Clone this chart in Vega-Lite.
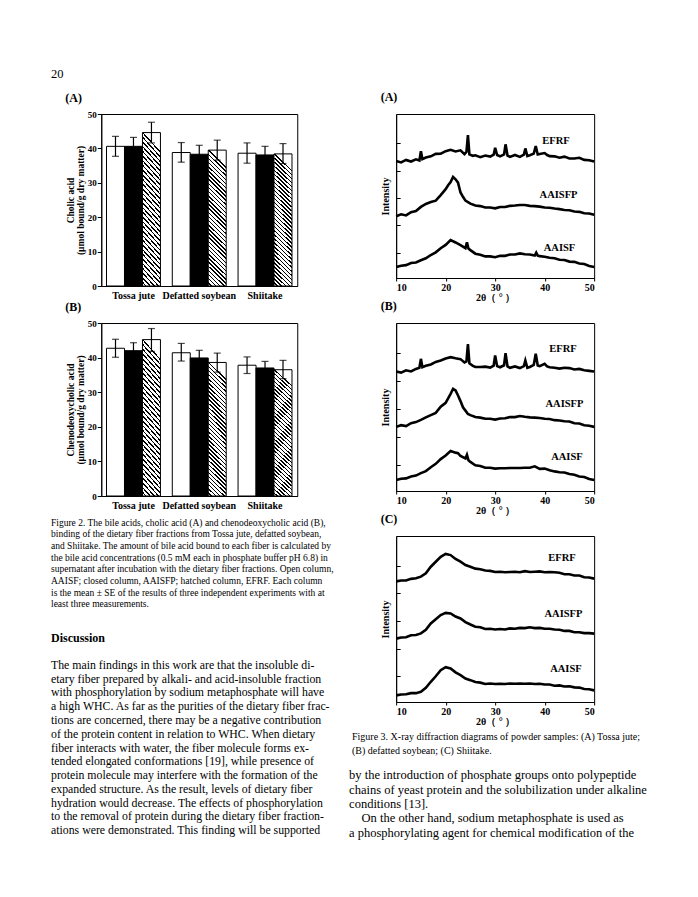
{
"$schema": "https://vega.github.io/schema/vega-lite/v6.json",
"background": "white",
"padding": {"left": 51, "top": 68, "right": 10, "bottom": 10},
"title": {"text": "20", "anchor": "start", "frame": "bounds", "fontSize": 12.5, "fontWeight": "normal", "offset": 10},
"config": {
  "font": "Liberation Serif",
  "view": {"stroke": null},
  "title": {"color": "#000"},
  "text": {"color": "#000"},
  "axis": {"labelColor": "#000", "titleColor": "#000", "domainColor": "#000", "tickColor": "#000", "grid": false, "labelFont": "Liberation Serif", "titleFont": "Liberation Serif"}
},
"datasets": {
  "cholic": [
    {"food": "Tossa jute", "fraction": "AAISF", "mean": 40.6, "lo": 37.7, "hi": 43.5},
    {"food": "Tossa jute", "fraction": "AAISFP", "mean": 40.6, "lo": 38.0, "hi": 43.2},
    {"food": "Tossa jute", "fraction": "EFRF", "mean": 44.6, "lo": 41.6, "hi": 47.6},
    {"food": "Defatted soybean", "fraction": "AAISF", "mean": 38.8, "lo": 36.0, "hi": 41.7},
    {"food": "Defatted soybean", "fraction": "AAISFP", "mean": 38.3, "lo": 35.6, "hi": 40.9},
    {"food": "Defatted soybean", "fraction": "EFRF", "mean": 39.5, "lo": 36.6, "hi": 42.4},
    {"food": "Shiitake", "fraction": "AAISF", "mean": 38.6, "lo": 35.7, "hi": 41.6},
    {"food": "Shiitake", "fraction": "AAISFP", "mean": 38.1, "lo": 35.2, "hi": 40.6},
    {"food": "Shiitake", "fraction": "EFRF", "mean": 38.4, "lo": 35.6, "hi": 41.4}
  ],
  "cheno": [
    {"food": "Tossa jute", "fraction": "AAISF", "mean": 42.7, "lo": 40.1, "hi": 45.3},
    {"food": "Tossa jute", "fraction": "AAISFP", "mean": 42.0, "lo": 39.9, "hi": 44.3},
    {"food": "Tossa jute", "fraction": "EFRF", "mean": 45.2, "lo": 41.8, "hi": 48.4},
    {"food": "Defatted soybean", "fraction": "AAISF", "mean": 41.4, "lo": 39.0, "hi": 44.1},
    {"food": "Defatted soybean", "fraction": "AAISFP", "mean": 39.9, "lo": 37.6, "hi": 42.1},
    {"food": "Defatted soybean", "fraction": "EFRF", "mean": 38.6, "lo": 35.8, "hi": 41.3},
    {"food": "Shiitake", "fraction": "AAISF", "mean": 37.8, "lo": 35.4, "hi": 40.2},
    {"food": "Shiitake", "fraction": "AAISFP", "mean": 37.0, "lo": 35.0, "hi": 38.9},
    {"food": "Shiitake", "fraction": "EFRF", "mean": 36.5, "lo": 33.9, "hi": 39.2}
  ],
  "xrd": [
    {"p":"A","s":"EFRF","deg":10,"val":42.8},{"p":"A","s":"EFRF","deg":11,"val":42.3},{"p":"A","s":"EFRF","deg":12,"val":43.2},{"p":"A","s":"EFRF","deg":13,"val":42.6},{"p":"A","s":"EFRF","deg":14,"val":43.4},{"p":"A","s":"EFRF","deg":14.7,"val":43.0},{"p":"A","s":"EFRF","deg":15,"val":46.4},{"p":"A","s":"EFRF","deg":15.3,"val":43.5},{"p":"A","s":"EFRF","deg":16,"val":44.1},{"p":"A","s":"EFRF","deg":17,"val":44.5},{"p":"A","s":"EFRF","deg":18,"val":45.4},{"p":"A","s":"EFRF","deg":19,"val":45.5},{"p":"A","s":"EFRF","deg":20,"val":46.4},{"p":"A","s":"EFRF","deg":21,"val":46.9},{"p":"A","s":"EFRF","deg":22,"val":46.3},{"p":"A","s":"EFRF","deg":23,"val":46.7},{"p":"A","s":"EFRF","deg":23.8,"val":45.3},{"p":"A","s":"EFRF","deg":24.2,"val":46.1},{"p":"A","s":"EFRF","deg":24.5,"val":52.3},{"p":"A","s":"EFRF","deg":24.8,"val":45.2},{"p":"A","s":"EFRF","deg":25.5,"val":44.7},{"p":"A","s":"EFRF","deg":26,"val":44.9},{"p":"A","s":"EFRF","deg":27,"val":44.2},{"p":"A","s":"EFRF","deg":28,"val":44.8},{"p":"A","s":"EFRF","deg":29,"val":44.4},{"p":"A","s":"EFRF","deg":29.7,"val":45.1},{"p":"A","s":"EFRF","deg":30,"val":47.6},{"p":"A","s":"EFRF","deg":30.4,"val":45.0},{"p":"A","s":"EFRF","deg":31,"val":44.5},{"p":"A","s":"EFRF","deg":31.8,"val":45.2},{"p":"A","s":"EFRF","deg":32.1,"val":48.9},{"p":"A","s":"EFRF","deg":32.5,"val":44.8},{"p":"A","s":"EFRF","deg":33,"val":44.3},{"p":"A","s":"EFRF","deg":34,"val":45.0},{"p":"A","s":"EFRF","deg":35,"val":44.3},{"p":"A","s":"EFRF","deg":35.8,"val":45.1},{"p":"A","s":"EFRF","deg":36.1,"val":47.4},{"p":"A","s":"EFRF","deg":36.5,"val":44.6},{"p":"A","s":"EFRF","deg":37,"val":44.9},{"p":"A","s":"EFRF","deg":37.8,"val":45.5},{"p":"A","s":"EFRF","deg":38.2,"val":48.3},{"p":"A","s":"EFRF","deg":38.6,"val":45.2},{"p":"A","s":"EFRF","deg":39,"val":45.4},{"p":"A","s":"EFRF","deg":40,"val":45.7},{"p":"A","s":"EFRF","deg":40.5,"val":45.0},{"p":"A","s":"EFRF","deg":41,"val":44.6},{"p":"A","s":"EFRF","deg":42,"val":44.5},{"p":"A","s":"EFRF","deg":43,"val":44.0},{"p":"A","s":"EFRF","deg":44,"val":44.4},{"p":"A","s":"EFRF","deg":45,"val":43.7},{"p":"A","s":"EFRF","deg":46,"val":43.7},{"p":"A","s":"EFRF","deg":47,"val":44.0},{"p":"A","s":"EFRF","deg":48,"val":43.2},{"p":"A","s":"EFRF","deg":49,"val":43.1},{"p":"A","s":"EFRF","deg":50,"val":42.6},
    {"p":"A","s":"AAISFP","deg":10,"val":22.6},{"p":"A","s":"AAISFP","deg":11,"val":23.3},{"p":"A","s":"AAISFP","deg":12,"val":22.9},{"p":"A","s":"AAISFP","deg":13,"val":24.1},{"p":"A","s":"AAISFP","deg":14,"val":24.5},{"p":"A","s":"AAISFP","deg":15,"val":26.0},{"p":"A","s":"AAISFP","deg":16,"val":27.1},{"p":"A","s":"AAISFP","deg":17,"val":27.8},{"p":"A","s":"AAISFP","deg":18,"val":28.3},{"p":"A","s":"AAISFP","deg":19,"val":30.3},{"p":"A","s":"AAISFP","deg":20,"val":32.5},{"p":"A","s":"AAISFP","deg":20.5,"val":33.9},{"p":"A","s":"AAISFP","deg":21,"val":35.1},{"p":"A","s":"AAISFP","deg":21.5,"val":37.0},{"p":"A","s":"AAISFP","deg":22,"val":36.1},{"p":"A","s":"AAISFP","deg":22.5,"val":34.9},{"p":"A","s":"AAISFP","deg":23,"val":31.3},{"p":"A","s":"AAISFP","deg":23.5,"val":29.7},{"p":"A","s":"AAISFP","deg":24,"val":28.3},{"p":"A","s":"AAISFP","deg":25,"val":27.2},{"p":"A","s":"AAISFP","deg":26,"val":26.5},{"p":"A","s":"AAISFP","deg":27,"val":26.3},{"p":"A","s":"AAISFP","deg":28,"val":25.8},{"p":"A","s":"AAISFP","deg":29,"val":25.8},{"p":"A","s":"AAISFP","deg":30,"val":25.5},{"p":"A","s":"AAISFP","deg":31,"val":26.0},{"p":"A","s":"AAISFP","deg":32,"val":26.0},{"p":"A","s":"AAISFP","deg":33,"val":26.4},{"p":"A","s":"AAISFP","deg":34,"val":26.5},{"p":"A","s":"AAISFP","deg":35,"val":26.7},{"p":"A","s":"AAISFP","deg":36,"val":26.7},{"p":"A","s":"AAISFP","deg":37,"val":26.4},{"p":"A","s":"AAISFP","deg":38,"val":26.3},{"p":"A","s":"AAISFP","deg":39,"val":26.1},{"p":"A","s":"AAISFP","deg":40,"val":25.8},{"p":"A","s":"AAISFP","deg":41,"val":25.7},{"p":"A","s":"AAISFP","deg":42,"val":25.4},{"p":"A","s":"AAISFP","deg":43,"val":25.2},{"p":"A","s":"AAISFP","deg":44,"val":24.9},{"p":"A","s":"AAISFP","deg":45,"val":24.8},{"p":"A","s":"AAISFP","deg":46,"val":24.3},{"p":"A","s":"AAISFP","deg":47,"val":24.2},{"p":"A","s":"AAISFP","deg":48,"val":23.7},{"p":"A","s":"AAISFP","deg":49,"val":23.6},{"p":"A","s":"AAISFP","deg":50,"val":23.1},
    {"p":"A","s":"AAISF","deg":10,"val":4.0},{"p":"A","s":"AAISF","deg":11,"val":4.5},{"p":"A","s":"AAISF","deg":12,"val":4.7},{"p":"A","s":"AAISF","deg":13,"val":5.5},{"p":"A","s":"AAISF","deg":14,"val":5.7},{"p":"A","s":"AAISF","deg":15,"val":6.5},{"p":"A","s":"AAISF","deg":16,"val":7.2},{"p":"A","s":"AAISF","deg":17,"val":8.4},{"p":"A","s":"AAISF","deg":18,"val":9.4},{"p":"A","s":"AAISF","deg":19,"val":10.9},{"p":"A","s":"AAISF","deg":20,"val":12.1},{"p":"A","s":"AAISF","deg":21,"val":13.9},{"p":"A","s":"AAISF","deg":22,"val":13.0},{"p":"A","s":"AAISF","deg":23,"val":12.0},{"p":"A","s":"AAISF","deg":24,"val":10.9},{"p":"A","s":"AAISF","deg":24.3,"val":13.1},{"p":"A","s":"AAISF","deg":24.6,"val":10.8},{"p":"A","s":"AAISF","deg":25,"val":10.2},{"p":"A","s":"AAISF","deg":26,"val":8.9},{"p":"A","s":"AAISF","deg":27,"val":8.5},{"p":"A","s":"AAISF","deg":28,"val":7.9},{"p":"A","s":"AAISF","deg":29,"val":7.9},{"p":"A","s":"AAISF","deg":30,"val":7.6},{"p":"A","s":"AAISF","deg":31,"val":8.1},{"p":"A","s":"AAISF","deg":32,"val":8.1},{"p":"A","s":"AAISF","deg":33,"val":8.6},{"p":"A","s":"AAISF","deg":34,"val":8.6},{"p":"A","s":"AAISF","deg":35,"val":9.0},{"p":"A","s":"AAISF","deg":36,"val":8.7},{"p":"A","s":"AAISF","deg":37,"val":8.6},{"p":"A","s":"AAISF","deg":38,"val":8.2},{"p":"A","s":"AAISF","deg":38.3,"val":9.3},{"p":"A","s":"AAISF","deg":38.6,"val":8.2},{"p":"A","s":"AAISF","deg":39,"val":8.0},{"p":"A","s":"AAISF","deg":40,"val":7.8},{"p":"A","s":"AAISF","deg":41,"val":7.4},{"p":"A","s":"AAISF","deg":42,"val":7.2},{"p":"A","s":"AAISF","deg":43,"val":6.7},{"p":"A","s":"AAISF","deg":44,"val":6.6},{"p":"A","s":"AAISF","deg":45,"val":6.0},{"p":"A","s":"AAISF","deg":46,"val":5.9},{"p":"A","s":"AAISF","deg":47,"val":5.3},{"p":"A","s":"AAISF","deg":48,"val":5.1},{"p":"A","s":"AAISF","deg":49,"val":4.4},{"p":"A","s":"AAISF","deg":50,"val":4.0},
    {"p":"B","s":"EFRF","deg":10,"val":42.7},{"p":"B","s":"EFRF","deg":11,"val":42.3},{"p":"B","s":"EFRF","deg":12,"val":43.1},{"p":"B","s":"EFRF","deg":13,"val":42.7},{"p":"B","s":"EFRF","deg":14,"val":43.6},{"p":"B","s":"EFRF","deg":14.7,"val":44.0},{"p":"B","s":"EFRF","deg":15,"val":47.2},{"p":"B","s":"EFRF","deg":15.3,"val":44.2},{"p":"B","s":"EFRF","deg":16,"val":44.7},{"p":"B","s":"EFRF","deg":17,"val":45.2},{"p":"B","s":"EFRF","deg":18,"val":46.1},{"p":"B","s":"EFRF","deg":19,"val":46.6},{"p":"B","s":"EFRF","deg":20,"val":47.3},{"p":"B","s":"EFRF","deg":21,"val":47.8},{"p":"B","s":"EFRF","deg":22,"val":47.4},{"p":"B","s":"EFRF","deg":23,"val":47.1},{"p":"B","s":"EFRF","deg":23.8,"val":45.9},{"p":"B","s":"EFRF","deg":24.2,"val":46.3},{"p":"B","s":"EFRF","deg":24.5,"val":52.5},{"p":"B","s":"EFRF","deg":24.8,"val":45.6},{"p":"B","s":"EFRF","deg":25.5,"val":44.7},{"p":"B","s":"EFRF","deg":26,"val":44.3},{"p":"B","s":"EFRF","deg":27,"val":44.3},{"p":"B","s":"EFRF","deg":28,"val":44.4},{"p":"B","s":"EFRF","deg":29,"val":44.1},{"p":"B","s":"EFRF","deg":29.7,"val":44.8},{"p":"B","s":"EFRF","deg":30,"val":48.4},{"p":"B","s":"EFRF","deg":30.4,"val":44.6},{"p":"B","s":"EFRF","deg":31,"val":44.2},{"p":"B","s":"EFRF","deg":31.8,"val":44.9},{"p":"B","s":"EFRF","deg":32.1,"val":49.2},{"p":"B","s":"EFRF","deg":32.5,"val":44.5},{"p":"B","s":"EFRF","deg":33,"val":44.0},{"p":"B","s":"EFRF","deg":34,"val":44.5},{"p":"B","s":"EFRF","deg":35,"val":43.9},{"p":"B","s":"EFRF","deg":35.8,"val":44.6},{"p":"B","s":"EFRF","deg":36.1,"val":46.6},{"p":"B","s":"EFRF","deg":36.5,"val":44.0},{"p":"B","s":"EFRF","deg":37,"val":44.3},{"p":"B","s":"EFRF","deg":37.8,"val":45.0},{"p":"B","s":"EFRF","deg":38.2,"val":49.0},{"p":"B","s":"EFRF","deg":38.6,"val":44.8},{"p":"B","s":"EFRF","deg":39,"val":44.6},{"p":"B","s":"EFRF","deg":40,"val":45.4},{"p":"B","s":"EFRF","deg":40.5,"val":44.5},{"p":"B","s":"EFRF","deg":41,"val":44.2},{"p":"B","s":"EFRF","deg":42,"val":44.0},{"p":"B","s":"EFRF","deg":43,"val":43.7},{"p":"B","s":"EFRF","deg":44,"val":44.0},{"p":"B","s":"EFRF","deg":45,"val":43.9},{"p":"B","s":"EFRF","deg":46,"val":43.4},{"p":"B","s":"EFRF","deg":47,"val":43.6},{"p":"B","s":"EFRF","deg":48,"val":43.1},{"p":"B","s":"EFRF","deg":49,"val":42.9},{"p":"B","s":"EFRF","deg":50,"val":42.7},
    {"p":"B","s":"AAISFP","deg":10,"val":22.9},{"p":"B","s":"AAISFP","deg":11,"val":23.5},{"p":"B","s":"AAISFP","deg":12,"val":23.2},{"p":"B","s":"AAISFP","deg":13,"val":24.2},{"p":"B","s":"AAISFP","deg":14,"val":24.6},{"p":"B","s":"AAISFP","deg":15,"val":25.4},{"p":"B","s":"AAISFP","deg":16,"val":26.3},{"p":"B","s":"AAISFP","deg":17,"val":27.1},{"p":"B","s":"AAISFP","deg":18,"val":27.9},{"p":"B","s":"AAISFP","deg":19,"val":30.1},{"p":"B","s":"AAISFP","deg":20,"val":31.5},{"p":"B","s":"AAISFP","deg":20.5,"val":33.1},{"p":"B","s":"AAISFP","deg":21,"val":34.7},{"p":"B","s":"AAISFP","deg":21.5,"val":36.5},{"p":"B","s":"AAISFP","deg":22,"val":35.9},{"p":"B","s":"AAISFP","deg":22.5,"val":34.1},{"p":"B","s":"AAISFP","deg":23,"val":32.1},{"p":"B","s":"AAISFP","deg":23.5,"val":29.9},{"p":"B","s":"AAISFP","deg":24,"val":28.7},{"p":"B","s":"AAISFP","deg":24.5,"val":27.5},{"p":"B","s":"AAISFP","deg":25,"val":27.1},{"p":"B","s":"AAISFP","deg":26,"val":26.4},{"p":"B","s":"AAISFP","deg":27,"val":26.2},{"p":"B","s":"AAISFP","deg":28,"val":25.8},{"p":"B","s":"AAISFP","deg":29,"val":25.8},{"p":"B","s":"AAISFP","deg":30,"val":25.5},{"p":"B","s":"AAISFP","deg":31,"val":25.9},{"p":"B","s":"AAISFP","deg":32,"val":26.0},{"p":"B","s":"AAISFP","deg":33,"val":26.4},{"p":"B","s":"AAISFP","deg":34,"val":26.4},{"p":"B","s":"AAISFP","deg":35,"val":26.8},{"p":"B","s":"AAISFP","deg":36,"val":26.5},{"p":"B","s":"AAISFP","deg":37,"val":26.3},{"p":"B","s":"AAISFP","deg":38,"val":26.2},{"p":"B","s":"AAISFP","deg":39,"val":26.1},{"p":"B","s":"AAISFP","deg":40,"val":25.8},{"p":"B","s":"AAISFP","deg":41,"val":25.7},{"p":"B","s":"AAISFP","deg":42,"val":25.3},{"p":"B","s":"AAISFP","deg":43,"val":25.2},{"p":"B","s":"AAISFP","deg":44,"val":24.9},{"p":"B","s":"AAISFP","deg":45,"val":24.8},{"p":"B","s":"AAISFP","deg":46,"val":24.2},{"p":"B","s":"AAISFP","deg":47,"val":24.1},{"p":"B","s":"AAISFP","deg":48,"val":23.5},{"p":"B","s":"AAISFP","deg":49,"val":23.3},{"p":"B","s":"AAISFP","deg":50,"val":22.9},
    {"p":"B","s":"AAISF","deg":10,"val":3.9},{"p":"B","s":"AAISF","deg":11,"val":4.4},{"p":"B","s":"AAISF","deg":12,"val":4.5},{"p":"B","s":"AAISF","deg":13,"val":5.2},{"p":"B","s":"AAISF","deg":14,"val":5.5},{"p":"B","s":"AAISF","deg":15,"val":6.4},{"p":"B","s":"AAISF","deg":16,"val":7.1},{"p":"B","s":"AAISF","deg":17,"val":8.5},{"p":"B","s":"AAISF","deg":18,"val":9.7},{"p":"B","s":"AAISF","deg":19,"val":11.4},{"p":"B","s":"AAISF","deg":20,"val":12.7},{"p":"B","s":"AAISF","deg":21,"val":14.3},{"p":"B","s":"AAISF","deg":22,"val":13.7},{"p":"B","s":"AAISF","deg":22.5,"val":13.5},{"p":"B","s":"AAISF","deg":23,"val":12.5},{"p":"B","s":"AAISF","deg":24,"val":11.6},{"p":"B","s":"AAISF","deg":24.3,"val":12.9},{"p":"B","s":"AAISF","deg":24.6,"val":11.0},{"p":"B","s":"AAISF","deg":25,"val":10.4},{"p":"B","s":"AAISF","deg":26,"val":9.2},{"p":"B","s":"AAISF","deg":27,"val":8.9},{"p":"B","s":"AAISF","deg":28,"val":8.3},{"p":"B","s":"AAISF","deg":29,"val":8.3},{"p":"B","s":"AAISF","deg":30,"val":8.0},{"p":"B","s":"AAISF","deg":31,"val":8.1},{"p":"B","s":"AAISF","deg":32,"val":8.1},{"p":"B","s":"AAISF","deg":33,"val":8.2},{"p":"B","s":"AAISF","deg":34,"val":8.2},{"p":"B","s":"AAISF","deg":35,"val":8.2},{"p":"B","s":"AAISF","deg":36,"val":8.3},{"p":"B","s":"AAISF","deg":37,"val":8.3},{"p":"B","s":"AAISF","deg":38,"val":8.8},{"p":"B","s":"AAISF","deg":39,"val":7.9},{"p":"B","s":"AAISF","deg":40,"val":8.0},{"p":"B","s":"AAISF","deg":41,"val":7.4},{"p":"B","s":"AAISF","deg":42,"val":7.0},{"p":"B","s":"AAISF","deg":43,"val":6.7},{"p":"B","s":"AAISF","deg":44,"val":6.6},{"p":"B","s":"AAISF","deg":45,"val":6.1},{"p":"B","s":"AAISF","deg":46,"val":5.8},{"p":"B","s":"AAISF","deg":47,"val":5.2},{"p":"B","s":"AAISF","deg":48,"val":5.0},{"p":"B","s":"AAISF","deg":49,"val":4.3},{"p":"B","s":"AAISF","deg":50,"val":3.9},
    {"p":"C","s":"EFRF","deg":10,"val":43.6},{"p":"C","s":"EFRF","deg":11,"val":43.9},{"p":"C","s":"EFRF","deg":12,"val":43.9},{"p":"C","s":"EFRF","deg":13,"val":44.5},{"p":"C","s":"EFRF","deg":14,"val":44.7},{"p":"C","s":"EFRF","deg":15,"val":45.3},{"p":"C","s":"EFRF","deg":16,"val":46.5},{"p":"C","s":"EFRF","deg":17,"val":48.9},{"p":"C","s":"EFRF","deg":18,"val":50.7},{"p":"C","s":"EFRF","deg":19,"val":52.5},{"p":"C","s":"EFRF","deg":20,"val":53.5},{"p":"C","s":"EFRF","deg":21,"val":53.1},{"p":"C","s":"EFRF","deg":22,"val":51.7},{"p":"C","s":"EFRF","deg":23,"val":50.7},{"p":"C","s":"EFRF","deg":24,"val":49.5},{"p":"C","s":"EFRF","deg":25,"val":48.9},{"p":"C","s":"EFRF","deg":26,"val":48.2},{"p":"C","s":"EFRF","deg":27,"val":48.0},{"p":"C","s":"EFRF","deg":28,"val":47.5},{"p":"C","s":"EFRF","deg":29,"val":47.4},{"p":"C","s":"EFRF","deg":30,"val":47.0},{"p":"C","s":"EFRF","deg":31,"val":47.1},{"p":"C","s":"EFRF","deg":32,"val":46.9},{"p":"C","s":"EFRF","deg":33,"val":47.0},{"p":"C","s":"EFRF","deg":34,"val":47.1},{"p":"C","s":"EFRF","deg":35,"val":46.9},{"p":"C","s":"EFRF","deg":36,"val":47.3},{"p":"C","s":"EFRF","deg":37,"val":47.0},{"p":"C","s":"EFRF","deg":38,"val":47.1},{"p":"C","s":"EFRF","deg":39,"val":47.2},{"p":"C","s":"EFRF","deg":40,"val":46.9},{"p":"C","s":"EFRF","deg":41,"val":47.0},{"p":"C","s":"EFRF","deg":42,"val":46.9},{"p":"C","s":"EFRF","deg":43,"val":46.7},{"p":"C","s":"EFRF","deg":44,"val":46.2},{"p":"C","s":"EFRF","deg":45,"val":46.2},{"p":"C","s":"EFRF","deg":46,"val":45.7},{"p":"C","s":"EFRF","deg":47,"val":45.7},{"p":"C","s":"EFRF","deg":48,"val":45.1},{"p":"C","s":"EFRF","deg":49,"val":45.0},{"p":"C","s":"EFRF","deg":50,"val":44.6},
    {"p":"C","s":"AAISFP","deg":10,"val":22.9},{"p":"C","s":"AAISFP","deg":11,"val":23.3},{"p":"C","s":"AAISFP","deg":12,"val":23.4},{"p":"C","s":"AAISFP","deg":13,"val":24.1},{"p":"C","s":"AAISFP","deg":14,"val":24.2},{"p":"C","s":"AAISFP","deg":15,"val":24.8},{"p":"C","s":"AAISFP","deg":16,"val":26.1},{"p":"C","s":"AAISFP","deg":17,"val":28.4},{"p":"C","s":"AAISFP","deg":18,"val":29.9},{"p":"C","s":"AAISFP","deg":19,"val":31.4},{"p":"C","s":"AAISFP","deg":20,"val":32.2},{"p":"C","s":"AAISFP","deg":21,"val":32.0},{"p":"C","s":"AAISFP","deg":22,"val":30.9},{"p":"C","s":"AAISFP","deg":23,"val":30.2},{"p":"C","s":"AAISFP","deg":24,"val":28.9},{"p":"C","s":"AAISFP","deg":25,"val":28.0},{"p":"C","s":"AAISFP","deg":26,"val":27.2},{"p":"C","s":"AAISFP","deg":27,"val":27.0},{"p":"C","s":"AAISFP","deg":28,"val":26.4},{"p":"C","s":"AAISFP","deg":29,"val":26.5},{"p":"C","s":"AAISFP","deg":30,"val":26.2},{"p":"C","s":"AAISFP","deg":31,"val":26.4},{"p":"C","s":"AAISFP","deg":32,"val":26.2},{"p":"C","s":"AAISFP","deg":33,"val":26.6},{"p":"C","s":"AAISFP","deg":34,"val":26.5},{"p":"C","s":"AAISFP","deg":35,"val":26.8},{"p":"C","s":"AAISFP","deg":36,"val":26.7},{"p":"C","s":"AAISFP","deg":37,"val":27.0},{"p":"C","s":"AAISFP","deg":38,"val":26.7},{"p":"C","s":"AAISFP","deg":39,"val":26.8},{"p":"C","s":"AAISFP","deg":40,"val":26.5},{"p":"C","s":"AAISFP","deg":41,"val":26.5},{"p":"C","s":"AAISFP","deg":42,"val":26.2},{"p":"C","s":"AAISFP","deg":43,"val":26.1},{"p":"C","s":"AAISFP","deg":44,"val":25.7},{"p":"C","s":"AAISFP","deg":45,"val":25.7},{"p":"C","s":"AAISFP","deg":46,"val":25.2},{"p":"C","s":"AAISFP","deg":47,"val":25.2},{"p":"C","s":"AAISFP","deg":48,"val":24.9},{"p":"C","s":"AAISFP","deg":49,"val":24.9},{"p":"C","s":"AAISFP","deg":50,"val":24.7},
    {"p":"C","s":"AAISF","deg":10,"val":2.4},{"p":"C","s":"AAISF","deg":11,"val":2.7},{"p":"C","s":"AAISF","deg":12,"val":2.8},{"p":"C","s":"AAISF","deg":13,"val":3.2},{"p":"C","s":"AAISF","deg":14,"val":3.2},{"p":"C","s":"AAISF","deg":15,"val":3.7},{"p":"C","s":"AAISF","deg":16,"val":5.1},{"p":"C","s":"AAISF","deg":17,"val":7.3},{"p":"C","s":"AAISF","deg":18,"val":9.3},{"p":"C","s":"AAISF","deg":19,"val":11.5},{"p":"C","s":"AAISF","deg":20,"val":12.6},{"p":"C","s":"AAISF","deg":21,"val":12.1},{"p":"C","s":"AAISF","deg":22,"val":10.7},{"p":"C","s":"AAISF","deg":23,"val":9.7},{"p":"C","s":"AAISF","deg":24,"val":8.5},{"p":"C","s":"AAISF","deg":25,"val":7.9},{"p":"C","s":"AAISF","deg":26,"val":7.2},{"p":"C","s":"AAISF","deg":27,"val":7.0},{"p":"C","s":"AAISF","deg":28,"val":6.5},{"p":"C","s":"AAISF","deg":29,"val":6.7},{"p":"C","s":"AAISF","deg":30,"val":6.5},{"p":"C","s":"AAISF","deg":31,"val":6.6},{"p":"C","s":"AAISF","deg":32,"val":6.5},{"p":"C","s":"AAISF","deg":33,"val":6.7},{"p":"C","s":"AAISF","deg":34,"val":6.6},{"p":"C","s":"AAISF","deg":35,"val":6.7},{"p":"C","s":"AAISF","deg":36,"val":6.6},{"p":"C","s":"AAISF","deg":37,"val":6.7},{"p":"C","s":"AAISF","deg":38,"val":6.5},{"p":"C","s":"AAISF","deg":39,"val":6.6},{"p":"C","s":"AAISF","deg":40,"val":6.3},{"p":"C","s":"AAISF","deg":41,"val":6.3},{"p":"C","s":"AAISF","deg":42,"val":5.9},{"p":"C","s":"AAISF","deg":43,"val":6.0},{"p":"C","s":"AAISF","deg":44,"val":5.6},{"p":"C","s":"AAISF","deg":45,"val":5.7},{"p":"C","s":"AAISF","deg":46,"val":5.3},{"p":"C","s":"AAISF","deg":47,"val":5.2},{"p":"C","s":"AAISF","deg":48,"val":4.7},{"p":"C","s":"AAISF","deg":49,"val":4.6},{"p":"C","s":"AAISF","deg":50,"val":4.2}
  ],
  "xrdlab": [
    {"p": "A", "s": "EFRF", "deg": 42.3, "val": 50.0},
    {"p": "A", "s": "AAISFP", "deg": 42.8, "val": 30.4},
    {"p": "A", "s": "AAISF", "deg": 43.0, "val": 11.0},
    {"p": "B", "s": "EFRF", "deg": 43.7, "val": 50.8},
    {"p": "B", "s": "AAISFP", "deg": 44.0, "val": 31.2},
    {"p": "B", "s": "AAISF", "deg": 44.5, "val": 12.0},
    {"p": "C", "s": "EFRF", "deg": 43.5, "val": 52.2},
    {"p": "C", "s": "AAISFP", "deg": 43.8, "val": 31.8},
    {"p": "C", "s": "AAISF", "deg": 44.3, "val": 11.8}
  ],
  "cap2": [
    {"line": 1, "text": "Figure 2.  The bile acids, cholic acid (A) and chenodeoxycholic acid (B),"},
    {"line": 2, "text": "binding of the dietary fiber fractions from Tossa jute, defatted soybean,"},
    {"line": 3, "text": "and Shiitake. The amount of bile acid bound to each fiber is calculated by"},
    {"line": 4, "text": "the bile acid concentrations (0.5 mM each in phosphate buffer pH 6.8) in"},
    {"line": 5, "text": "supernatant after incubation with the dietary fiber fractions. Open column,"},
    {"line": 6, "text": "AAISF; closed column, AAISFP; hatched column, EFRF. Each column"},
    {"line": 7, "text": "is the mean ± SE of the results of three independent experiments with at"},
    {"line": 8, "text": "least three measurements."}
  ],
  "disc": [
    {"line": 1, "text": "Discussion"}
  ],
  "para": [
    {"line": 1, "text": "The main findings in this work are that the insoluble di-"},
    {"line": 2, "text": "etary fiber prepared by alkali- and acid-insoluble fraction"},
    {"line": 3, "text": "with phosphorylation by sodium metaphosphate will have"},
    {"line": 4, "text": "a high WHC. As far as the purities of the dietary fiber frac-"},
    {"line": 5, "text": "tions are concerned, there may be a negative contribution"},
    {"line": 6, "text": "of the protein content in relation to WHC. When dietary"},
    {"line": 7, "text": "fiber interacts with water, the fiber molecule forms ex-"},
    {"line": 8, "text": "tended elongated conformations [19], while presence of"},
    {"line": 9, "text": "protein molecule may interfere with the formation of the"},
    {"line": 10, "text": "expanded structure. As the result, levels of dietary fiber"},
    {"line": 11, "text": "hydration would decrease. The effects of phosphorylation"},
    {"line": 12, "text": "to the removal of protein during the dietary fiber fraction-"},
    {"line": 13, "text": "ations were demonstrated. This finding will be supported"}
  ],
  "cap3": [
    {"line": 1, "text": "Figure 3.  X-ray diffraction diagrams of powder samples: (A) Tossa jute;"},
    {"line": 2, "text": "(B) defatted soybean; (C) Shiitake."}
  ],
  "body": [
    {"line": 1, "text": "by the introduction of phosphate groups onto polypeptide"},
    {"line": 2, "text": "chains of yeast protein and the solubilization under alkaline"},
    {"line": 3, "text": "conditions [13]."},
    {"line": 4, "text": "\u200b\u00a0\u00a0\u00a0\u00a0On the other hand, sodium metaphosphate is used as"},
    {"line": 5, "text": "a phosphorylating agent for chemical modification of the"}
  ]
},
"spacing": 1,
"hconcat": [
  {
    "center": true,
    "spacing": -1,
    "vconcat": [
      {
        "title": {"text": "(A)", "anchor": "start", "frame": "bounds", "fontSize": 12, "fontWeight": "bold", "offset": 5},
        "width": 196, "height": 172,
        "view": {"stroke": "#000", "strokeWidth": 1},
        "data": {"name": "cholic"},
        "encoding": {
          "x": {"field": "food", "type": "nominal", "scale": {"domain": ["Tossa jute", "Defatted soybean", "Shiitake"], "paddingInner": 0.18, "paddingOuter": 0.08}, "axis": {"title": null, "ticks": false, "labelAngle": 0, "labelFontWeight": "bold", "labelFontSize": 10, "labelPadding": 4}},
          "xOffset": {"field": "fraction", "type": "nominal", "scale": {"domain": ["AAISF", "AAISFP", "EFRF"], "paddingInner": 0, "paddingOuter": 0}}
        },
        "layer": [
          {"transform": [{"filter": "datum.fraction === 'AAISF'"}], "mark": {"type": "bar", "fill": "#fff", "stroke": "#000", "strokeWidth": 1},
           "encoding": {"y": {"field": "mean", "type": "quantitative", "scale": {"domain": [0, 50], "nice": false}, "axis": {"values": [0, 10, 20, 30, 40, 50], "labelOverlap": false, "labelFontWeight": "bold", "labelFontSize": 9, "tickSize": 4, "labelPadding": 1, "titlePadding": 2, "titleFontSize": 9.5, "titleFontWeight": "bold", "titleLineHeight": 10, "title": ["Cholic acid", "(µmol bound/g dry matter)"]}}}},
          {"transform": [{"filter": "datum.fraction === 'AAISFP'"}], "mark": {"type": "bar", "fill": "#000", "stroke": "#000", "strokeWidth": 1},
           "encoding": {"y": {"field": "mean", "type": "quantitative", "axis": {"values": [0, 10, 20, 30, 40, 50], "labelOverlap": false, "labelFontWeight": "bold", "labelFontSize": 9, "tickSize": 4, "labelPadding": 1, "titlePadding": 2, "titleFontSize": 9.5, "titleFontWeight": "bold", "titleLineHeight": 10, "title": ["Cholic acid", "(µmol bound/g dry matter)"]}}}},
          {"transform": [{"filter": "datum.fraction === 'EFRF'"}], "mark": {"type": "bar", "stroke": "#000", "strokeWidth": 1,
            "fill": {"gradient": "linear", "x1": 0, "y1": 1, "x2": 0.13, "y2": 0, "stops": [
              {"offset":0,"color":"#fff"},
              {"offset":0.019,"color":"#fff"},{"offset":0.019,"color":"#000"},{"offset":0.03,"color":"#000"},{"offset":0.03,"color":"#fff"},
              {"offset":0.049,"color":"#fff"},{"offset":0.049,"color":"#000"},{"offset":0.06,"color":"#000"},{"offset":0.06,"color":"#fff"},
              {"offset":0.079,"color":"#fff"},{"offset":0.079,"color":"#000"},{"offset":0.09,"color":"#000"},{"offset":0.09,"color":"#fff"},
              {"offset":0.109,"color":"#fff"},{"offset":0.109,"color":"#000"},{"offset":0.12,"color":"#000"},{"offset":0.12,"color":"#fff"},
              {"offset":0.139,"color":"#fff"},{"offset":0.139,"color":"#000"},{"offset":0.15,"color":"#000"},{"offset":0.15,"color":"#fff"},
              {"offset":0.169,"color":"#fff"},{"offset":0.169,"color":"#000"},{"offset":0.18,"color":"#000"},{"offset":0.18,"color":"#fff"},
              {"offset":0.199,"color":"#fff"},{"offset":0.199,"color":"#000"},{"offset":0.21,"color":"#000"},{"offset":0.21,"color":"#fff"},
              {"offset":0.229,"color":"#fff"},{"offset":0.229,"color":"#000"},{"offset":0.24,"color":"#000"},{"offset":0.24,"color":"#fff"},
              {"offset":0.259,"color":"#fff"},{"offset":0.259,"color":"#000"},{"offset":0.27,"color":"#000"},{"offset":0.27,"color":"#fff"},
              {"offset":0.289,"color":"#fff"},{"offset":0.289,"color":"#000"},{"offset":0.3,"color":"#000"},{"offset":0.3,"color":"#fff"},
              {"offset":0.319,"color":"#fff"},{"offset":0.319,"color":"#000"},{"offset":0.33,"color":"#000"},{"offset":0.33,"color":"#fff"},
              {"offset":0.349,"color":"#fff"},{"offset":0.349,"color":"#000"},{"offset":0.36,"color":"#000"},{"offset":0.36,"color":"#fff"},
              {"offset":0.379,"color":"#fff"},{"offset":0.379,"color":"#000"},{"offset":0.39,"color":"#000"},{"offset":0.39,"color":"#fff"},
              {"offset":0.409,"color":"#fff"},{"offset":0.409,"color":"#000"},{"offset":0.42,"color":"#000"},{"offset":0.42,"color":"#fff"},
              {"offset":0.439,"color":"#fff"},{"offset":0.439,"color":"#000"},{"offset":0.45,"color":"#000"},{"offset":0.45,"color":"#fff"},
              {"offset":0.469,"color":"#fff"},{"offset":0.469,"color":"#000"},{"offset":0.48,"color":"#000"},{"offset":0.48,"color":"#fff"},
              {"offset":0.499,"color":"#fff"},{"offset":0.499,"color":"#000"},{"offset":0.51,"color":"#000"},{"offset":0.51,"color":"#fff"},
              {"offset":0.529,"color":"#fff"},{"offset":0.529,"color":"#000"},{"offset":0.54,"color":"#000"},{"offset":0.54,"color":"#fff"},
              {"offset":0.559,"color":"#fff"},{"offset":0.559,"color":"#000"},{"offset":0.57,"color":"#000"},{"offset":0.57,"color":"#fff"},
              {"offset":0.589,"color":"#fff"},{"offset":0.589,"color":"#000"},{"offset":0.6,"color":"#000"},{"offset":0.6,"color":"#fff"},
              {"offset":0.619,"color":"#fff"},{"offset":0.619,"color":"#000"},{"offset":0.63,"color":"#000"},{"offset":0.63,"color":"#fff"},
              {"offset":0.649,"color":"#fff"},{"offset":0.649,"color":"#000"},{"offset":0.66,"color":"#000"},{"offset":0.66,"color":"#fff"},
              {"offset":0.679,"color":"#fff"},{"offset":0.679,"color":"#000"},{"offset":0.69,"color":"#000"},{"offset":0.69,"color":"#fff"},
              {"offset":0.709,"color":"#fff"},{"offset":0.709,"color":"#000"},{"offset":0.72,"color":"#000"},{"offset":0.72,"color":"#fff"},
              {"offset":0.739,"color":"#fff"},{"offset":0.739,"color":"#000"},{"offset":0.75,"color":"#000"},{"offset":0.75,"color":"#fff"},
              {"offset":0.769,"color":"#fff"},{"offset":0.769,"color":"#000"},{"offset":0.78,"color":"#000"},{"offset":0.78,"color":"#fff"},
              {"offset":0.799,"color":"#fff"},{"offset":0.799,"color":"#000"},{"offset":0.81,"color":"#000"},{"offset":0.81,"color":"#fff"},
              {"offset":0.829,"color":"#fff"},{"offset":0.829,"color":"#000"},{"offset":0.84,"color":"#000"},{"offset":0.84,"color":"#fff"},
              {"offset":0.859,"color":"#fff"},{"offset":0.859,"color":"#000"},{"offset":0.87,"color":"#000"},{"offset":0.87,"color":"#fff"},
              {"offset":0.889,"color":"#fff"},{"offset":0.889,"color":"#000"},{"offset":0.9,"color":"#000"},{"offset":0.9,"color":"#fff"},
              {"offset":0.919,"color":"#fff"},{"offset":0.919,"color":"#000"},{"offset":0.93,"color":"#000"},{"offset":0.93,"color":"#fff"},
              {"offset":0.949,"color":"#fff"},{"offset":0.949,"color":"#000"},{"offset":0.96,"color":"#000"},{"offset":0.96,"color":"#fff"},
              {"offset":0.979,"color":"#fff"},{"offset":0.979,"color":"#000"},{"offset":0.99,"color":"#000"},{"offset":0.99,"color":"#fff"},
              {"offset":1,"color":"#fff"}]}},
           "encoding": {"y": {"field": "mean", "type": "quantitative", "axis": {"values": [0, 10, 20, 30, 40, 50], "labelOverlap": false, "labelFontWeight": "bold", "labelFontSize": 9, "tickSize": 4, "labelPadding": 1, "titlePadding": 2, "titleFontSize": 9.5, "titleFontWeight": "bold", "titleLineHeight": 10, "title": ["Cholic acid", "(µmol bound/g dry matter)"]}}}},
          {"mark": {"type": "rule", "color": "#000", "strokeWidth": 1.2}, "encoding": {"y": {"field": "lo", "type": "quantitative", "axis": {"values": [0, 10, 20, 30, 40, 50], "labelOverlap": false, "labelFontWeight": "bold", "labelFontSize": 9, "tickSize": 4, "labelPadding": 1, "titlePadding": 2, "titleFontSize": 9.5, "titleFontWeight": "bold", "titleLineHeight": 10, "title": ["Cholic acid", "(µmol bound/g dry matter)"]}}, "y2": {"field": "hi"}}},
          {"mark": {"type": "tick", "color": "#000", "thickness": 1.2, "size": 7}, "encoding": {"y": {"field": "lo", "type": "quantitative", "axis": {"values": [0, 10, 20, 30, 40, 50], "labelOverlap": false, "labelFontWeight": "bold", "labelFontSize": 9, "tickSize": 4, "labelPadding": 1, "titlePadding": 2, "titleFontSize": 9.5, "titleFontWeight": "bold", "titleLineHeight": 10, "title": ["Cholic acid", "(µmol bound/g dry matter)"]}}}},
          {"mark": {"type": "tick", "color": "#000", "thickness": 1.2, "size": 7}, "encoding": {"y": {"field": "hi", "type": "quantitative", "axis": {"values": [0, 10, 20, 30, 40, 50], "labelOverlap": false, "labelFontWeight": "bold", "labelFontSize": 9, "tickSize": 4, "labelPadding": 1, "titlePadding": 2, "titleFontSize": 9.5, "titleFontWeight": "bold", "titleLineHeight": 10, "title": ["Cholic acid", "(µmol bound/g dry matter)"]}}}}
        ]
      },
      {
        "title": {"text": "(B)", "anchor": "start", "frame": "bounds", "fontSize": 12, "fontWeight": "bold", "offset": 5},
        "width": 196, "height": 173,
        "view": {"stroke": "#000", "strokeWidth": 1},
        "data": {"name": "cheno"},
        "encoding": {
          "x": {"field": "food", "type": "nominal", "scale": {"domain": ["Tossa jute", "Defatted soybean", "Shiitake"], "paddingInner": 0.18, "paddingOuter": 0.08}, "axis": {"title": null, "ticks": false, "labelAngle": 0, "labelFontWeight": "bold", "labelFontSize": 10, "labelPadding": 4}},
          "xOffset": {"field": "fraction", "type": "nominal", "scale": {"domain": ["AAISF", "AAISFP", "EFRF"], "paddingInner": 0, "paddingOuter": 0}}
        },
        "layer": [
          {"transform": [{"filter": "datum.fraction === 'AAISF'"}], "mark": {"type": "bar", "fill": "#fff", "stroke": "#000", "strokeWidth": 1},
           "encoding": {"y": {"field": "mean", "type": "quantitative", "scale": {"domain": [0, 50], "nice": false}, "axis": {"values": [0, 10, 20, 30, 40, 50], "labelOverlap": false, "labelFontWeight": "bold", "labelFontSize": 9, "tickSize": 4, "labelPadding": 1, "titlePadding": 2, "titleFontSize": 9.5, "titleFontWeight": "bold", "titleLineHeight": 10, "title": ["Chenodeoxycholic acid", "(µmol bound/g dry matter)"]}}}},
          {"transform": [{"filter": "datum.fraction === 'AAISFP'"}], "mark": {"type": "bar", "fill": "#000", "stroke": "#000", "strokeWidth": 1},
           "encoding": {"y": {"field": "mean", "type": "quantitative", "axis": {"values": [0, 10, 20, 30, 40, 50], "labelOverlap": false, "labelFontWeight": "bold", "labelFontSize": 9, "tickSize": 4, "labelPadding": 1, "titlePadding": 2, "titleFontSize": 9.5, "titleFontWeight": "bold", "titleLineHeight": 10, "title": ["Chenodeoxycholic acid", "(µmol bound/g dry matter)"]}}}},
          {"transform": [{"filter": "datum.fraction === 'EFRF'"}], "mark": {"type": "bar", "stroke": "#000", "strokeWidth": 1,
            "fill": {"gradient": "linear", "x1": 0, "y1": 1, "x2": 0.13, "y2": 0, "stops": [
              {"offset":0,"color":"#fff"},
              {"offset":0.019,"color":"#fff"},{"offset":0.019,"color":"#000"},{"offset":0.03,"color":"#000"},{"offset":0.03,"color":"#fff"},
              {"offset":0.049,"color":"#fff"},{"offset":0.049,"color":"#000"},{"offset":0.06,"color":"#000"},{"offset":0.06,"color":"#fff"},
              {"offset":0.079,"color":"#fff"},{"offset":0.079,"color":"#000"},{"offset":0.09,"color":"#000"},{"offset":0.09,"color":"#fff"},
              {"offset":0.109,"color":"#fff"},{"offset":0.109,"color":"#000"},{"offset":0.12,"color":"#000"},{"offset":0.12,"color":"#fff"},
              {"offset":0.139,"color":"#fff"},{"offset":0.139,"color":"#000"},{"offset":0.15,"color":"#000"},{"offset":0.15,"color":"#fff"},
              {"offset":0.169,"color":"#fff"},{"offset":0.169,"color":"#000"},{"offset":0.18,"color":"#000"},{"offset":0.18,"color":"#fff"},
              {"offset":0.199,"color":"#fff"},{"offset":0.199,"color":"#000"},{"offset":0.21,"color":"#000"},{"offset":0.21,"color":"#fff"},
              {"offset":0.229,"color":"#fff"},{"offset":0.229,"color":"#000"},{"offset":0.24,"color":"#000"},{"offset":0.24,"color":"#fff"},
              {"offset":0.259,"color":"#fff"},{"offset":0.259,"color":"#000"},{"offset":0.27,"color":"#000"},{"offset":0.27,"color":"#fff"},
              {"offset":0.289,"color":"#fff"},{"offset":0.289,"color":"#000"},{"offset":0.3,"color":"#000"},{"offset":0.3,"color":"#fff"},
              {"offset":0.319,"color":"#fff"},{"offset":0.319,"color":"#000"},{"offset":0.33,"color":"#000"},{"offset":0.33,"color":"#fff"},
              {"offset":0.349,"color":"#fff"},{"offset":0.349,"color":"#000"},{"offset":0.36,"color":"#000"},{"offset":0.36,"color":"#fff"},
              {"offset":0.379,"color":"#fff"},{"offset":0.379,"color":"#000"},{"offset":0.39,"color":"#000"},{"offset":0.39,"color":"#fff"},
              {"offset":0.409,"color":"#fff"},{"offset":0.409,"color":"#000"},{"offset":0.42,"color":"#000"},{"offset":0.42,"color":"#fff"},
              {"offset":0.439,"color":"#fff"},{"offset":0.439,"color":"#000"},{"offset":0.45,"color":"#000"},{"offset":0.45,"color":"#fff"},
              {"offset":0.469,"color":"#fff"},{"offset":0.469,"color":"#000"},{"offset":0.48,"color":"#000"},{"offset":0.48,"color":"#fff"},
              {"offset":0.499,"color":"#fff"},{"offset":0.499,"color":"#000"},{"offset":0.51,"color":"#000"},{"offset":0.51,"color":"#fff"},
              {"offset":0.529,"color":"#fff"},{"offset":0.529,"color":"#000"},{"offset":0.54,"color":"#000"},{"offset":0.54,"color":"#fff"},
              {"offset":0.559,"color":"#fff"},{"offset":0.559,"color":"#000"},{"offset":0.57,"color":"#000"},{"offset":0.57,"color":"#fff"},
              {"offset":0.589,"color":"#fff"},{"offset":0.589,"color":"#000"},{"offset":0.6,"color":"#000"},{"offset":0.6,"color":"#fff"},
              {"offset":0.619,"color":"#fff"},{"offset":0.619,"color":"#000"},{"offset":0.63,"color":"#000"},{"offset":0.63,"color":"#fff"},
              {"offset":0.649,"color":"#fff"},{"offset":0.649,"color":"#000"},{"offset":0.66,"color":"#000"},{"offset":0.66,"color":"#fff"},
              {"offset":0.679,"color":"#fff"},{"offset":0.679,"color":"#000"},{"offset":0.69,"color":"#000"},{"offset":0.69,"color":"#fff"},
              {"offset":0.709,"color":"#fff"},{"offset":0.709,"color":"#000"},{"offset":0.72,"color":"#000"},{"offset":0.72,"color":"#fff"},
              {"offset":0.739,"color":"#fff"},{"offset":0.739,"color":"#000"},{"offset":0.75,"color":"#000"},{"offset":0.75,"color":"#fff"},
              {"offset":0.769,"color":"#fff"},{"offset":0.769,"color":"#000"},{"offset":0.78,"color":"#000"},{"offset":0.78,"color":"#fff"},
              {"offset":0.799,"color":"#fff"},{"offset":0.799,"color":"#000"},{"offset":0.81,"color":"#000"},{"offset":0.81,"color":"#fff"},
              {"offset":0.829,"color":"#fff"},{"offset":0.829,"color":"#000"},{"offset":0.84,"color":"#000"},{"offset":0.84,"color":"#fff"},
              {"offset":0.859,"color":"#fff"},{"offset":0.859,"color":"#000"},{"offset":0.87,"color":"#000"},{"offset":0.87,"color":"#fff"},
              {"offset":0.889,"color":"#fff"},{"offset":0.889,"color":"#000"},{"offset":0.9,"color":"#000"},{"offset":0.9,"color":"#fff"},
              {"offset":0.919,"color":"#fff"},{"offset":0.919,"color":"#000"},{"offset":0.93,"color":"#000"},{"offset":0.93,"color":"#fff"},
              {"offset":0.949,"color":"#fff"},{"offset":0.949,"color":"#000"},{"offset":0.96,"color":"#000"},{"offset":0.96,"color":"#fff"},
              {"offset":0.979,"color":"#fff"},{"offset":0.979,"color":"#000"},{"offset":0.99,"color":"#000"},{"offset":0.99,"color":"#fff"},
              {"offset":1,"color":"#fff"}]}},
           "encoding": {"y": {"field": "mean", "type": "quantitative", "axis": {"values": [0, 10, 20, 30, 40, 50], "labelOverlap": false, "labelFontWeight": "bold", "labelFontSize": 9, "tickSize": 4, "labelPadding": 1, "titlePadding": 2, "titleFontSize": 9.5, "titleFontWeight": "bold", "titleLineHeight": 10, "title": ["Chenodeoxycholic acid", "(µmol bound/g dry matter)"]}}}},
          {"mark": {"type": "rule", "color": "#000", "strokeWidth": 1.2}, "encoding": {"y": {"field": "lo", "type": "quantitative", "axis": {"values": [0, 10, 20, 30, 40, 50], "labelOverlap": false, "labelFontWeight": "bold", "labelFontSize": 9, "tickSize": 4, "labelPadding": 1, "titlePadding": 2, "titleFontSize": 9.5, "titleFontWeight": "bold", "titleLineHeight": 10, "title": ["Chenodeoxycholic acid", "(µmol bound/g dry matter)"]}}, "y2": {"field": "hi"}}},
          {"mark": {"type": "tick", "color": "#000", "thickness": 1.2, "size": 7}, "encoding": {"y": {"field": "lo", "type": "quantitative", "axis": {"values": [0, 10, 20, 30, 40, 50], "labelOverlap": false, "labelFontWeight": "bold", "labelFontSize": 9, "tickSize": 4, "labelPadding": 1, "titlePadding": 2, "titleFontSize": 9.5, "titleFontWeight": "bold", "titleLineHeight": 10, "title": ["Chenodeoxycholic acid", "(µmol bound/g dry matter)"]}}}},
          {"mark": {"type": "tick", "color": "#000", "thickness": 1.2, "size": 7}, "encoding": {"y": {"field": "hi", "type": "quantitative", "axis": {"values": [0, 10, 20, 30, 40, 50], "labelOverlap": false, "labelFontWeight": "bold", "labelFontSize": 9, "tickSize": 4, "labelPadding": 1, "titlePadding": 2, "titleFontSize": 9.5, "titleFontWeight": "bold", "titleLineHeight": 10, "title": ["Chenodeoxycholic acid", "(µmol bound/g dry matter)"]}}}}
        ]
      },
      {
        "width": 297, "height": 105,
        "data": {"name": "cap2"},
        "mark": {"type": "text", "align": "left", "baseline": "middle", "fontSize": 9.5},
        "encoding": {
          "x": {"datum": 0, "type": "quantitative", "scale": {"domain": [0, 1]}, "axis": null},
          "y": {"field": "line", "type": "ordinal", "axis": null, "scale": {"padding": 1.27}},
          "text": {"field": "text"}
        }
      },
      {
        "width": 297, "height": 44,
        "data": {"name": "disc"},
        "mark": {"type": "text", "align": "left", "baseline": "middle", "fontSize": 12, "fontWeight": "bold"},
        "encoding": {
          "x": {"datum": 0, "type": "quantitative", "scale": {"domain": [0, 1]}, "axis": null},
          "y": {"field": "line", "type": "ordinal", "axis": null},
          "text": {"field": "text"}
        }
      },
      {
        "width": 297, "height": 171,
        "data": {"name": "para"},
        "mark": {"type": "text", "align": "left", "baseline": "middle", "fontSize": 11.8},
        "encoding": {
          "x": {"datum": 0, "type": "quantitative", "scale": {"domain": [0, 1]}, "axis": null},
          "y": {"field": "line", "type": "ordinal", "axis": null, "scale": {"padding": 0.21}},
          "text": {"field": "text"}
        }
      }
    ]
  },
  {
    "center": true,
    "spacing": -4,
    "vconcat": [
      {
        "title": {"text": "(A)", "anchor": "start", "frame": "bounds", "fontSize": 12, "fontWeight": "bold", "offset": 10},
        "width": 198, "height": 164,
        "view": {"stroke": "#000", "strokeWidth": 1},
        "layer": [
          {"data": {"name": "xrd"}, "transform": [{"filter": "datum.p === 'A'"}],
           "mark": {"type": "line", "color": "#000", "strokeWidth": 2.6},
           "encoding": {
             "x": {"field": "deg", "type": "quantitative", "scale": {"domain": [10, 50], "nice": false}, "axis": {"values": [10, 20, 30, 40, 50], "labelFontWeight": "bold", "labelFontSize": 10, "tickSize": 3, "labelPadding": 1, "title": "2θ（ ° ）", "titleFontSize": 10, "titleFontWeight": "bold", "titlePadding": 0}},
             "y": {"field": "val", "type": "quantitative", "scale": {"domain": [0, 60], "nice": false}, "axis": {"values": [9.3, 19.3, 29.3, 39.3, 49.3], "labels": false, "tickSize": -4, "title": "Intensity", "titleFontSize": 10, "titleFontWeight": "bold", "titlePadding": 5}},
             "detail": {"field": "s"}
           }},
          {"data": {"name": "xrdlab"}, "transform": [{"filter": "datum.p === 'A'"}],
           "mark": {"type": "text", "fontSize": 10.5, "fontWeight": "bold", "align": "center", "baseline": "middle"},
           "encoding": {"x": {"field": "deg", "type": "quantitative"}, "y": {"field": "val", "type": "quantitative"}, "text": {"field": "s"}}}
        ]
      },
      {
        "title": {"text": "(B)", "anchor": "start", "frame": "bounds", "fontSize": 12, "fontWeight": "bold", "offset": 10},
        "width": 198, "height": 168,
        "view": {"stroke": "#000", "strokeWidth": 1},
        "layer": [
          {"data": {"name": "xrd"}, "transform": [{"filter": "datum.p === 'B'"}],
           "mark": {"type": "line", "color": "#000", "strokeWidth": 2.6},
           "encoding": {
             "x": {"field": "deg", "type": "quantitative", "scale": {"domain": [10, 50], "nice": false}, "axis": {"values": [10, 20, 30, 40, 50], "labelFontWeight": "bold", "labelFontSize": 10, "tickSize": 3, "labelPadding": 1, "title": "2θ（ ° ）", "titleFontSize": 10, "titleFontWeight": "bold", "titlePadding": 0}},
             "y": {"field": "val", "type": "quantitative", "scale": {"domain": [0, 60], "nice": false}, "axis": {"values": [9.3, 19.3, 29.3, 39.3, 49.3], "labels": false, "tickSize": -4, "title": "Intensity", "titleFontSize": 10, "titleFontWeight": "bold", "titlePadding": 5}},
             "detail": {"field": "s"}
           }},
          {"data": {"name": "xrdlab"}, "transform": [{"filter": "datum.p === 'B'"}],
           "mark": {"type": "text", "fontSize": 10.5, "fontWeight": "bold", "align": "center", "baseline": "middle"},
           "encoding": {"x": {"field": "deg", "type": "quantitative"}, "y": {"field": "val", "type": "quantitative"}, "text": {"field": "s"}}}
        ]
      },
      {
        "title": {"text": "(C)", "anchor": "start", "frame": "bounds", "fontSize": 12, "fontWeight": "bold", "offset": 10},
        "width": 198, "height": 166,
        "view": {"stroke": "#000", "strokeWidth": 1},
        "layer": [
          {"data": {"name": "xrd"}, "transform": [{"filter": "datum.p === 'C'"}],
           "mark": {"type": "line", "color": "#000", "strokeWidth": 2.6},
           "encoding": {
             "x": {"field": "deg", "type": "quantitative", "scale": {"domain": [10, 50], "nice": false}, "axis": {"values": [10, 20, 30, 40, 50], "labelFontWeight": "bold", "labelFontSize": 10, "tickSize": 3, "labelPadding": 1, "title": "2θ（ ° ）", "titleFontSize": 10, "titleFontWeight": "bold", "titlePadding": 0}},
             "y": {"field": "val", "type": "quantitative", "scale": {"domain": [0, 60], "nice": false}, "axis": {"values": [9.3, 19.3, 29.3, 39.3, 49.3], "labels": false, "tickSize": -4, "title": "Intensity", "titleFontSize": 10, "titleFontWeight": "bold", "titlePadding": 5}},
             "detail": {"field": "s"}
           }},
          {"data": {"name": "xrdlab"}, "transform": [{"filter": "datum.p === 'C'"}],
           "mark": {"type": "text", "fontSize": 10.5, "fontWeight": "bold", "align": "center", "baseline": "middle"},
           "encoding": {"x": {"field": "deg", "type": "quantitative"}, "y": {"field": "val", "type": "quantitative"}, "text": {"field": "s"}}}
        ]
      },
      {
        "width": 292, "height": 34,
        "data": {"name": "cap3"},
        "mark": {"type": "text", "align": "left", "baseline": "middle", "fontSize": 10},
        "encoding": {
          "x": {"datum": 0, "type": "quantitative", "scale": {"domain": [0, 1]}, "axis": null},
          "y": {"field": "line", "type": "ordinal", "axis": null, "scale": {"padding": 0.71}},
          "text": {"field": "text"}
        }
      },
      {
        "width": 292, "height": 86,
        "data": {"name": "body"},
        "mark": {"type": "text", "align": "left", "baseline": "middle", "fontSize": 12.5},
        "encoding": {
          "x": {"datum": 0, "type": "quantitative", "scale": {"domain": [0, 1]}, "axis": null},
          "y": {"field": "line", "type": "ordinal", "axis": null, "scale": {"padding": 0.97}},
          "text": {"field": "text"}
        }
      }
    ]
  }
]
}
